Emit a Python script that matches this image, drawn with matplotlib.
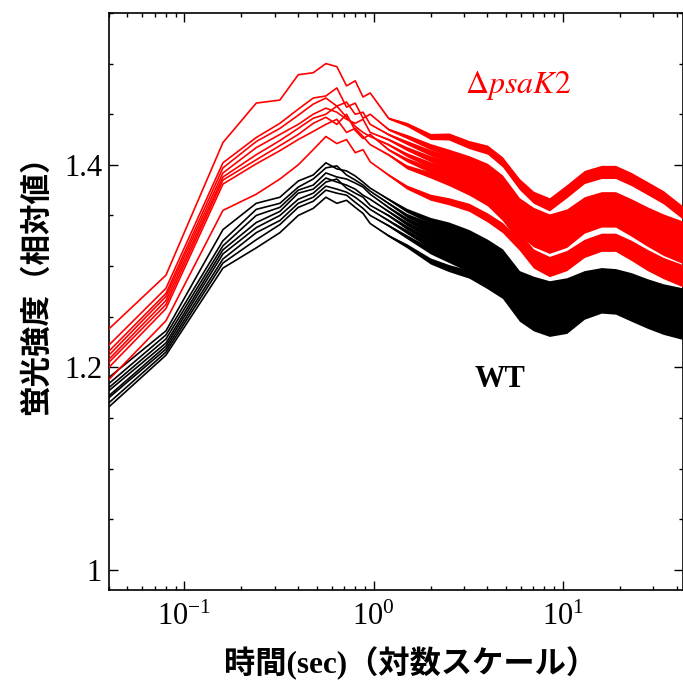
import numpy as np
import matplotlib
matplotlib.use("Agg")
import matplotlib.pyplot as plt
from matplotlib.ticker import FixedLocator, MultipleLocator, NullFormatter

plt.rcParams["font.family"] = ["Liberation Serif", "DejaVu Serif"]
plt.rcParams["mathtext.fontset"] = "stix"

# sampling times (s) shared by all traces
TIME = [0.04, 0.08, 0.16, 0.24, 0.32, 0.40, 0.48, 0.56, 0.64, 0.72, 0.80, 0.88, 0.96,
        1.2, 1.5, 2.0, 2.5, 3.2, 4.0, 4.8, 5.9, 7.0, 8.5, 10.5, 13.0, 16.0, 19.0,
        23.0, 28.0, 34.0, 43.0]

# half-width of the measurement noise band at each time
NOISE_HW = [0, 0, 0, 0, 0, 0, 0, 0, 0, 0, 0, 0, 0,
            0.001, 0.002, 0.003, 0.0035, 0.004, 0.0045, 0.005, 0.0055, 0.006, 0.0065, 0.0065, 0.0065, 0.0065, 0.0065,
            0.0065, 0.0065, 0.0065, 0.0065]

# delta psaK2 traces
MUT_1 = [1.238, 1.291, 1.422, 1.461, 1.464, 1.489, 1.491, 1.500, 1.497, 1.478, 1.483, 1.467, 1.471,
         1.446, 1.440, 1.428, 1.428, 1.420, 1.415, 1.403, 1.381, 1.368, 1.361, 1.374, 1.388, 1.393, 1.393,
         1.386, 1.377, 1.368, 1.353]
MUT_2 = [1.222, 1.278, 1.402, 1.427, 1.441, 1.455, 1.466, 1.468, 1.476, 1.457, 1.461, 1.446, 1.450,
         1.435, 1.428, 1.418, 1.412, 1.405, 1.397, 1.385, 1.362, 1.352, 1.345, 1.350, 1.362, 1.367, 1.367,
         1.360, 1.352, 1.345, 1.338]
MUT_3 = [1.216, 1.273, 1.397, 1.423, 1.436, 1.449, 1.460, 1.466, 1.458, 1.462, 1.450, 1.452, 1.440,
         1.430, 1.422, 1.412, 1.406, 1.398, 1.390, 1.378, 1.355, 1.345, 1.339, 1.344, 1.356, 1.362, 1.362,
         1.354, 1.346, 1.338, 1.331]
MUT_4 = [1.212, 1.270, 1.392, 1.417, 1.430, 1.440, 1.450, 1.456, 1.452, 1.445, 1.441, 1.445, 1.432,
         1.425, 1.416, 1.406, 1.400, 1.392, 1.383, 1.371, 1.348, 1.338, 1.332, 1.337, 1.350, 1.356, 1.356,
         1.348, 1.339, 1.331, 1.324]
MUT_5 = [1.208, 1.266, 1.388, 1.410, 1.424, 1.436, 1.446, 1.450, 1.458, 1.447, 1.438, 1.432, 1.428,
         1.420, 1.410, 1.400, 1.395, 1.386, 1.377, 1.364, 1.342, 1.331, 1.326, 1.331, 1.345, 1.351, 1.351,
         1.342, 1.333, 1.324, 1.316]
MUT_6 = [1.205, 1.262, 1.385, 1.405, 1.419, 1.430, 1.441, 1.447, 1.440, 1.450, 1.434, 1.426, 1.430,
         1.415, 1.405, 1.395, 1.389, 1.380, 1.371, 1.358, 1.336, 1.325, 1.319, 1.325, 1.339, 1.345, 1.345,
         1.336, 1.326, 1.317, 1.309]
MUT_7 = [1.200, 1.258, 1.381, 1.401, 1.414, 1.425, 1.433, 1.440, 1.445, 1.432, 1.436, 1.428, 1.420,
         1.410, 1.398, 1.390, 1.383, 1.374, 1.364, 1.350, 1.328, 1.311, 1.303, 1.309, 1.320, 1.326, 1.326,
         1.319, 1.310, 1.302, 1.295]
MUT_8 = [1.188, 1.246, 1.355, 1.371, 1.386, 1.400, 1.415, 1.428, 1.421, 1.425, 1.412, 1.415, 1.403,
         1.390, 1.378, 1.368, 1.364, 1.358, 1.348, 1.338, 1.321, 1.304, 1.296, 1.302, 1.315, 1.321, 1.321,
         1.312, 1.302, 1.294, 1.286]

# wild-type traces
WT_1 = [1.190, 1.236, 1.336, 1.362, 1.368, 1.384, 1.390, 1.402, 1.396, 1.394, 1.389, 1.383, 1.377,
        1.366, 1.355, 1.345, 1.340, 1.332, 1.322, 1.312, 1.290, 1.284, 1.279, 1.282, 1.289, 1.292, 1.291,
        1.287, 1.281, 1.276, 1.272]
WT_2 = [1.184, 1.232, 1.325, 1.356, 1.362, 1.378, 1.386, 1.397, 1.399, 1.390, 1.385, 1.380, 1.374,
        1.362, 1.350, 1.340, 1.334, 1.326, 1.316, 1.306, 1.284, 1.278, 1.273, 1.276, 1.284, 1.288, 1.287,
        1.282, 1.276, 1.271, 1.267]
WT_3 = [1.180, 1.228, 1.320, 1.350, 1.358, 1.375, 1.380, 1.392, 1.388, 1.386, 1.382, 1.378, 1.371,
        1.358, 1.346, 1.335, 1.328, 1.320, 1.310, 1.300, 1.278, 1.272, 1.267, 1.270, 1.279, 1.283, 1.283,
        1.277, 1.271, 1.265, 1.261]
WT_4 = [1.177, 1.224, 1.316, 1.343, 1.354, 1.372, 1.376, 1.387, 1.383, 1.380, 1.376, 1.370, 1.366,
        1.354, 1.342, 1.330, 1.323, 1.314, 1.304, 1.294, 1.272, 1.266, 1.261, 1.264, 1.274, 1.279, 1.278,
        1.272, 1.266, 1.260, 1.256]
WT_5 = [1.172, 1.221, 1.312, 1.338, 1.350, 1.366, 1.372, 1.383, 1.386, 1.377, 1.372, 1.368, 1.360,
        1.350, 1.338, 1.325, 1.318, 1.309, 1.299, 1.289, 1.267, 1.260, 1.255, 1.258, 1.269, 1.274, 1.274,
        1.267, 1.260, 1.254, 1.250]
WT_6 = [1.170, 1.218, 1.307, 1.333, 1.345, 1.362, 1.368, 1.379, 1.376, 1.373, 1.368, 1.362, 1.356,
        1.345, 1.334, 1.320, 1.312, 1.303, 1.293, 1.283, 1.261, 1.254, 1.249, 1.252, 1.264, 1.269, 1.269,
        1.262, 1.255, 1.249, 1.245]
WT_7 = [1.165, 1.215, 1.303, 1.326, 1.341, 1.358, 1.364, 1.375, 1.372, 1.370, 1.363, 1.357, 1.350,
        1.340, 1.329, 1.315, 1.307, 1.298, 1.288, 1.278, 1.256, 1.248, 1.243, 1.246, 1.259, 1.265, 1.264,
        1.257, 1.250, 1.244, 1.240]
WT_8 = [1.161, 1.212, 1.298, 1.318, 1.333, 1.350, 1.357, 1.368, 1.362, 1.365, 1.358, 1.352, 1.342,
        1.330, 1.320, 1.305, 1.298, 1.292, 1.282, 1.273, 1.251, 1.242, 1.237, 1.240, 1.254, 1.260, 1.259,
        1.252, 1.245, 1.239, 1.234]

MUT_TRACES = [MUT_1, MUT_2, MUT_3, MUT_4, MUT_5, MUT_6, MUT_7, MUT_8]
WT_TRACES = [WT_1, WT_2, WT_3, WT_4, WT_5, WT_6, WT_7, WT_8]

Y_TICKS = [1.0, 1.2, 1.4]
Y_TICK_LABELS = ["1", "1.2", "1.4"]

t = np.array(TIME)
hw = np.array(NOISE_HW)

W, H = 683, 684
fig = plt.figure(figsize=(W / 100, H / 100), dpi=100)
ax = fig.add_axes([109 / W, 1 - 590 / H, (W - 109) / W - 0.0005, (590 - 13) / H])


def draw_trace(values, color):
    y = np.array(values)
    ax.plot(t, y, color=color, lw=1.2, zorder=3)
    ax.fill_between(t, y - hw, y + hw, color=color, lw=0, zorder=3)


for trace in WT_TRACES:
    draw_trace(trace, "black")
for trace in MUT_TRACES:
    draw_trace(trace, "#ff0000")

ax.set_xscale("log")
ax.set_xlim(0.04, 43)
ax.set_ylim(0.98, 1.55)

ax.yaxis.set_major_locator(FixedLocator(Y_TICKS))
ax.set_yticklabels(Y_TICK_LABELS)
ax.yaxis.set_minor_locator(MultipleLocator(0.05))
ax.xaxis.set_minor_formatter(NullFormatter())

ax.tick_params(which="both", direction="in", top=True, right=True, width=1.0)
ax.tick_params(which="major", length=6.5)
ax.tick_params(which="minor", length=3.2)
ax.tick_params(axis="x", which="major", labelsize=22, pad=9)
ax.tick_params(axis="y", which="major", labelsize=22, pad=5)
for s in ax.spines.values():
    s.set_linewidth(1.2)

# serif for latin parts, gothic for the Japanese glyphs
mixed = ["Liberation Serif", "Noto Sans CJK JP", "DejaVu Sans"]
jp = ["Noto Sans CJK JP", "DejaVu Sans"]
fig.text(36 / W, 1 - 278 / H, "蛍光強度（相対値）", rotation=90, ha="center", va="center",
         fontsize=22, fontweight="bold", family=jp)
fig.text(411 / W, 1 - 663 / H, "時間(sec)（対数スケール）", ha="center", va="center",
         fontsize=22.5, fontweight="bold", family=mixed)

fig.text(465 / W, 1 - 93 / H, r"$\Delta\mathit{psaK2}$", color="#ff0000", fontsize=23,
         ha="left", va="baseline")
fig.text(475 / W, 1 - 387 / H, "WT", color="black", fontsize=22, fontweight="bold",
         ha="left", va="baseline")

fig.savefig("out.png", dpi=100)
